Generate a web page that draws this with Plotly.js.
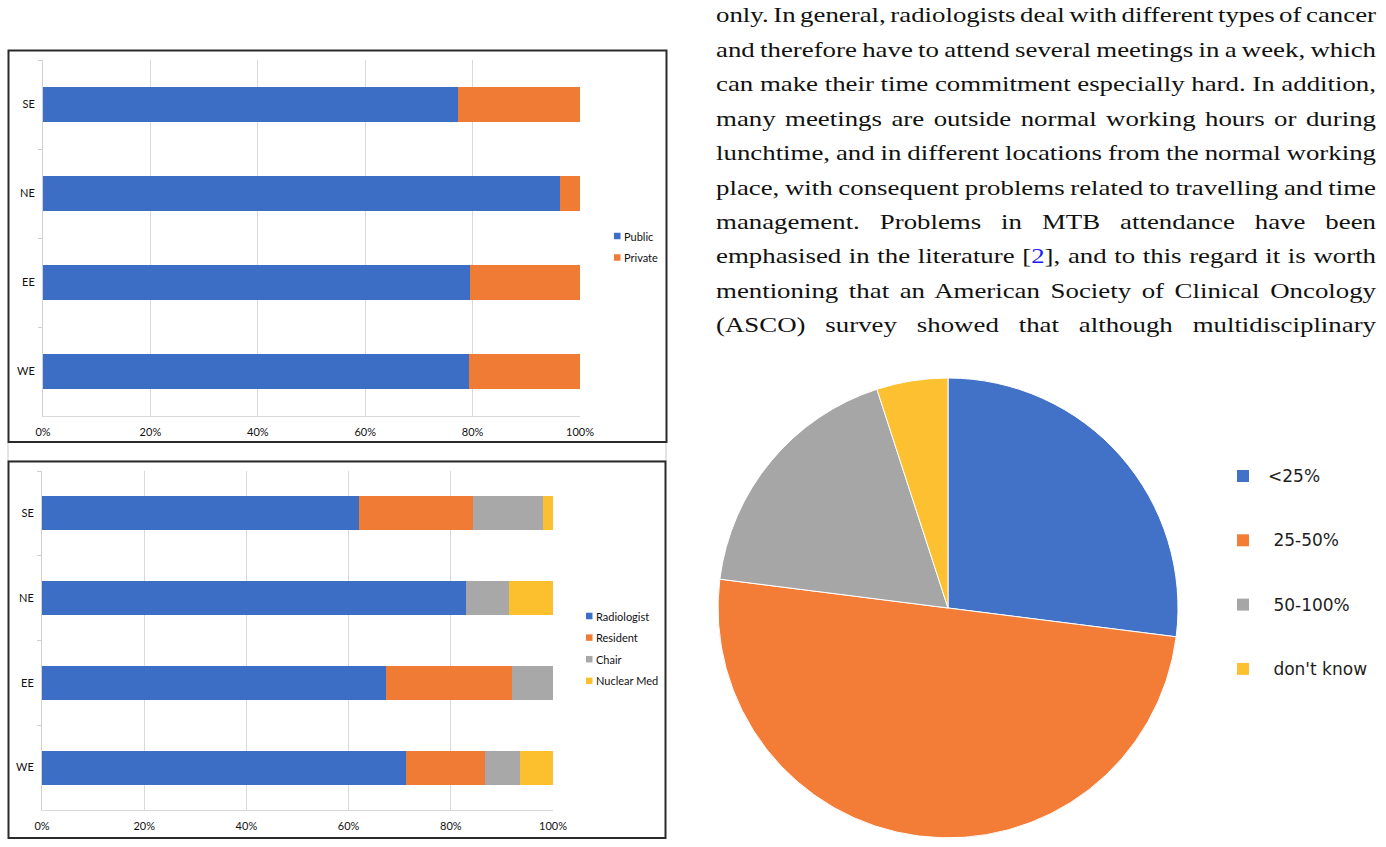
<!DOCTYPE html>
<html><head><meta charset="utf-8">
<script src="https://cdn.plot.ly/plotly-3.0.1.min.js"></script>
<style>
html,body{margin:0;padding:0;background:#fff;}
#wrap{position:relative;width:1386px;height:847px;overflow:hidden;background:#fff;}
#chart{position:absolute;left:0;top:0;width:1386px;height:847px;}
#para{position:absolute;left:716px;top:-1.7px;width:541px;transform:scaleX(1.22);transform-origin:0 0;font-family:"Liberation Serif","Times New Roman",serif;font-size:22px;line-height:34.44px;word-spacing:-2.5px;color:#111;}
#para div{white-space:nowrap;text-align:justify;text-align-last:justify;}
#para span.ref{color:#1a1aff;}
</style></head>
<body><div id="wrap"><div id="chart"></div><div id="para"></div></div>
<script>
// ---------- data ----------
const regions = ['WE', 'EE', 'NE', 'SE'];

const sectorNames = ['Public', 'Private'];
const publicPct  = [79.4, 79.6, 96.2, 77.2];
const privatePct = [20.6, 20.4, 3.8, 22.8];

const roleNames = ['Radiologist', 'Resident', 'Chair', 'Nuclear Med'];
const radiologistPct = [71.2, 67.4, 83.0, 62.1];
const residentPct    = [15.5, 24.6, 0.0, 22.2];
const chairPct       = [6.8, 8.0, 8.4, 13.8];
const nuclearMedPct  = [6.5, 0.0, 8.6, 1.9];

const xTickVals = [0, 20, 40, 60, 80, 100];
const xTickText = ['0%', '20%', '40%', '60%', '80%', '100%'];

const pieLabels = ['<25%', ' 25-50%', ' 50-100%', " don't know"];
const pieValues = [27, 50, 18, 5];

const paragraphLines = [
  'only. In general, radiologists deal with different types of cancer',
  'and therefore have to attend several meetings in a week, which',
  'can make their time commitment especially hard. In addition,',
  'many meetings are outside normal working hours or during',
  'lunchtime, and in different locations from the normal working',
  'place, with consequent problems related to travelling and time',
  'management. Problems in MTB attendance have been',
  'emphasised in the literature [2], and to this regard it is worth',
  'mentioning that an American Society of Clinical Oncology',
  '(ASCO) survey showed that although multidisciplinary'
];

// ---------- styling ----------
const W = 1386, H = 847;
const px = x => x / W;
const py = y => 1 - y / H;
const palette = ['#3d6ec6', '#f07b35', '#a8a8a8', '#fcc02e'];
const pieColors = ['#4272c8', '#f37c37', '#a6a6a6', '#fcc031'];
const barFont = {family: 'Lato, "Liberation Sans", sans-serif', size: 11, color: '#111111'};

const sectorSeries = [publicPct, privatePct];
const roleSeries = [radiologistPct, residentPct, chairPct, nuclearMedPct];

const traces = [];
sectorSeries.forEach((vals, i) => traces.push({
  type: 'bar', orientation: 'h', name: sectorNames[i], x: vals, y: regions,
  xaxis: 'x', yaxis: 'y', marker: {color: palette[i], line: {width: 0}},
  showlegend: false, hoverinfo: 'skip'
}));
roleSeries.forEach((vals, i) => traces.push({
  type: 'bar', orientation: 'h', name: roleNames[i], x: vals, y: regions,
  xaxis: 'x2', yaxis: 'y2', marker: {color: palette[i], line: {width: 0}},
  showlegend: false, hoverinfo: 'skip'
}));
traces.push({
  type: 'pie', labels: pieLabels, values: pieValues, sort: false,
  direction: 'clockwise', rotation: 0, textinfo: 'none', hoverinfo: 'skip',
  marker: {colors: pieColors, line: {color: '#ffffff', width: 1}},
  domain: {x: [px(718), px(1178)], y: [py(838), py(378)]},
  showlegend: false
});

function xAxis(domain, anchor) {
  return {
    domain: domain, anchor: anchor, range: [0, 100], tickvals: xTickVals, ticktext: xTickText,
    showgrid: true, gridcolor: '#d9d9d9', gridwidth: 1, zeroline: false,
    showline: true, linecolor: '#d9d9d9', linewidth: 1, ticks: '',
    tickfont: barFont, ticklabelstandoff: 6, fixedrange: true
  };
}
function yAxis(domain, anchor) {
  return {
    domain: domain, anchor: anchor, type: 'category', categoryorder: 'array', categoryarray: regions,
    showgrid: false, zeroline: false, showline: true, linecolor: '#d0d0d0', linewidth: 1,
    ticks: 'outside', tickson: 'boundaries', ticklen: 4, tickcolor: '#d0d0d0', tickwidth: 1,
    tickfont: barFont, ticklabelstandoff: 5, fixedrange: true
  };
}

const shapes = [
  {type: 'rect', xref: 'paper', yref: 'paper', x0: px(8), x1: px(666), y0: py(461), y1: py(442),
   line: {color: '#c8c8c8', width: 1}, layer: 'below'},
  {type: 'rect', xref: 'paper', yref: 'paper', x0: px(8.5), x1: px(666.5), y0: py(442), y1: py(50.5),
   line: {color: '#2a2a2a', width: 2}},
  {type: 'rect', xref: 'paper', yref: 'paper', x0: px(8.5), x1: px(665.5), y0: py(838), y1: py(461.5),
   line: {color: '#2a2a2a', width: 2}}
];
const annotations = [];

function addLegend(names, colors, sqLeft, sqSize, textX, y0, step, font) {
  names.forEach((n, i) => {
    const yc = y0 + i * step;
    shapes.push({type: 'rect', xref: 'paper', yref: 'paper',
      x0: px(sqLeft), x1: px(sqLeft + sqSize), y0: py(yc + sqSize / 2), y1: py(yc - sqSize / 2),
      fillcolor: colors[i], line: {width: 0}});
    annotations.push({xref: 'paper', yref: 'paper', x: px(textX), y: py(yc),
      xanchor: 'left', yanchor: 'middle', showarrow: false,
      text: n.replace(/^ /, '\u00a0'), font: font});
  });
}
addLegend(sectorNames, palette, 614, 6.5, 621.5, 236, 21.5, barFont);
addLegend(roleNames, palette, 586, 6.5, 593.5, 616, 21.6, barFont);
addLegend(pieLabels, pieColors, 1237, 12, 1266, 476, 64.3,
  {family: '"DejaVu Sans", sans-serif', size: 17, color: '#1e1e1e'});

const layout = {
  width: W, height: H, margin: {l: 0, r: 0, t: 0, b: 0},
  paper_bgcolor: '#ffffff', plot_bgcolor: 'rgba(0,0,0,0)',
  barmode: 'stack', bargap: 0.6, showlegend: false,
  xaxis: xAxis([px(43), px(580)], 'y'),
  yaxis: yAxis([py(416), py(60)], 'x'),
  xaxis2: xAxis([px(42), px(553)], 'y2'),
  yaxis2: yAxis([py(810), py(471)], 'x2'),
  shapes: shapes, annotations: annotations
};

Plotly.newPlot('chart', traces, layout, {staticPlot: true, displayModeBar: false});

const para = document.getElementById('para');
paragraphLines.forEach(line => {
  const d = document.createElement('div');
  d.innerHTML = line.replace('[2]', '[<span class="ref">2</span>]');
  para.appendChild(d);
});
</script>
</body></html>
